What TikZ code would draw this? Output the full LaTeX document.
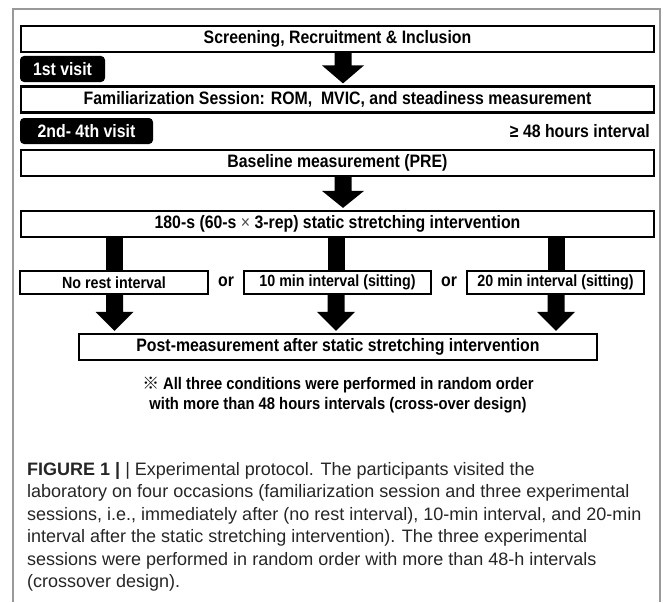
\documentclass[tikz,border=0pt]{standalone}
\usepackage{fontspec}
\setmainfont{Liberation Sans}
\newfontfamily\diagfont[FakeStretch=0.88]{Liberation Sans}
\newfontfamily\cjkfont{Noto Sans CJK JP}
\usetikzlibrary{calc}
\newcommand\fatarrow[5]{% #1 from, #2 to, #3 x, #4 head length, #5 half head width
  \fill let \p1=(#1.south), \p2=(#2.north) in
   ({#3pt-8.5pt},\y1) -- ({#3pt+8.5pt},\y1) -- ({#3pt+8.5pt},{\y2+2pt+#4pt})
   -- ({#3pt+#5pt},{\y2+2pt+#4pt}) -- ({#3pt},{\y2+2pt})
   -- ({#3pt-#5pt},{\y2+2pt+#4pt}) -- ({#3pt-8.5pt},{\y2+2pt+#4pt}) -- cycle;}
\newcommand\fatbar[3]{% #1 from, #2 to, #3 x
  \fill let \p1=(#1.south), \p2=(#2.north) in
   ({#3pt-8.5pt},\y1) rectangle ({#3pt+8.5pt},\y2);}
\begin{document}
\begin{tikzpicture}[x=1pt,y=-1pt,
  mainbox/.style={draw=black, line width=2.2pt, minimum width=633pt, minimum height=26pt, inner sep=0pt, font=\diagfont\fontsize{18}{20}\selectfont\bfseries},
  condbox/.style={draw=black, line width=1.3pt, minimum height=23pt, inner sep=0pt, font=\diagfont\fontsize{16.2}{18}\selectfont\bfseries},
  pill/.style={fill=black, rounded corners=4pt, text=white, minimum height=26pt, inner sep=0pt, font=\diagfont\fontsize{18}{20}\selectfont\bfseries},
  plain/.style={inner sep=0pt, font=\diagfont\fontsize{18}{20}\selectfont\bfseries},
  note/.style={inner sep=0pt, font=\diagfont\fontsize{16.8}{19}\selectfont\bfseries},
  capline/.style={anchor=base west, inner sep=0pt, text=black!85, font=\fontsize{18}{20}\selectfont},
]
\useasboundingbox (0,0) rectangle (663,602);
\fill[white] (0,0) rectangle (663,602);
\draw[black!40, line width=1.5pt] (13,602) -- (13,9) -- (660,9) -- (660,602);

\node[mainbox] (scr) at (337.5,39) {Screening, Recruitment \& Inclusion};
\node[pill, minimum width=85pt] (v1) at (62.5,69) {1st visit};
\node[mainbox] (fam) at (337.5,99.5) {Familiarization Session: ROM,\ \ MVIC, and steadiness measurement};
\node[pill, minimum width=133pt] (v2) at (86.5,131) {2nd- 4th visit};
\node[plain, anchor=east] (hrs) at (650,131) {≥ 48 hours interval};
\node[mainbox] (base) at (337.5,163) {Baseline measurement (PRE)};
\node[mainbox] (str) at (337.5,224) {180-s (60-s {\mdseries\color{black!70}×} 3-rep) static stretching intervention};

\node[condbox, minimum width=188pt] (c1) at (114,282.5) {No rest interval};
\node[condbox, minimum width=187pt] (c2) at (337.5,282.5) {10 min interval (sitting)};
\node[condbox, minimum width=177pt] (c3) at (555.5,282.5) {20 min interval (sitting)};
\node[plain] (or1) at (226,282) {or};
\node[plain] (or2) at (449,282) {or};

\node[mainbox, minimum width=518pt] (post) at (338,347) {Post-measurement after static stretching intervention};

\node[note] (n1) at (338,385) {{\cjkfont\bfseries ※} All three conditions were performed in random order};
\node[note] (n2) at (338,405) {with more than 48 hours intervals (cross-over design)};

\fatarrow{scr}{fam}{343}{18}{21}
\fatarrow{base}{str}{343}{17}{21}
\fatbar{str}{c1}{114.5}
\fatbar{str}{c2}{336}
\fatbar{str}{c3}{556}
\fatarrow{c1}{post}{114.5}{19}{19}
\fatarrow{c2}{post}{336}{19}{19}
\fatarrow{c3}{post}{556}{19}{19}

\node[capline] (cap1) at (27,475) {\textbf{FIGURE 1 |} | Experimental protocol. The participants visited the};
\node[capline] (cap2) at (27,497.5) {laboratory on four occasions (familiarization session and three experimental};
\node[capline] (cap3) at (27,520) {sessions, i.e., immediately after (no rest interval), 10-min interval, and 20-min};
\node[capline] (cap4) at (27,542.5) {interval after the static stretching intervention). The three experimental};
\node[capline] (cap5) at (27,565) {sessions were performed in random order with more than 48-h intervals};
\node[capline] (cap6) at (27,587.5) {(crossover design).};
\end{tikzpicture}
\end{document}
